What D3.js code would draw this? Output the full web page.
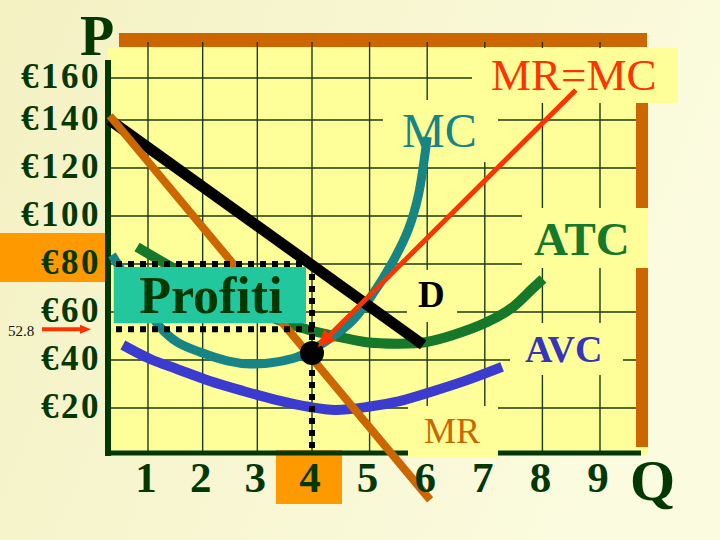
<!DOCTYPE html>
<html><head><meta charset="utf-8">
<script src="https://cdn.jsdelivr.net/npm/d3@7"></script>
<style>body{margin:0;background:#f7f5cf;} svg{display:block;}</style>
</head><body>
<svg id="chart" width="720" height="540"></svg>
<script>
// ---------------- data ----------------
const qTicks = [1, 2, 3, 4, 5, 6, 7, 8, 9];
const qTickLabels = ["1", "2", "3", "4", "5", "6", "7", "8", "9"];
const pTicks = [20, 40, 60, 80, 100, 120, 140, 160];
const pTickLabels = ["€20", "€40", "€60", "€80", "€100", "€120", "€140", "€160"];

const demandQ = [0.3, 5.93];
const demandP = [140, 46.3];
const mrQ = [0.3, 6.05];
const mrP = [142, -18.3];
const mcQ = [0.34, 1.22, 1.53, 1.95, 2.45, 2.87, 3.36, 3.73, 4.0, 4.66, 5.02, 5.39, 5.67, 5.84, 5.94, 6.0];
const mcP = [83.8, 53.75, 47.5, 43.3, 39.6, 38.3, 39.2, 41.25, 44.2, 55.4, 66.25, 80.4, 94.2, 107.9, 122.1, 132.9];
const atcQ = [0.80, 1.27, 2.2, 3.0, 3.78, 4.0, 4.36, 4.95, 5.52, 5.99, 6.45, 7.04, 7.49, 7.84, 8.01];
const atcP = [87.1, 80.8, 69, 60, 53.6, 52.2, 50.2, 47.4, 46.8, 47.5, 50.4, 55.8, 62.1, 70, 73.75];
const avcQ = [0.54, 1.04, 1.53, 2.13, 2.74, 3.36, 3.96, 4.40, 4.95, 5.52, 6.09, 6.68, 7.3];
const avcP = [46.25, 40.4, 36.25, 31.25, 27.1, 23.3, 20.4, 19.2, 20.4, 22.9, 26.9, 31.5, 37.1];

const qAxisStart = 0.3;
const qStar = 4;          // output where MR = MC
const pStar = 42.9;       // MR = MC point
const price = 80;         // price on demand
const atcAtQ = 52.8;      // average total cost at qStar
const atcLabel = "52.8";
const arrowFromQP = [8.58, 154.3];
const arrowToQP = [4.1, 45.4];

// ---------------- setup ----------------
const svg = d3.select("#chart");
const x = d3.scaleLinear().domain([1, 4, 9]).range([148, 312, 600]);
const y = d3.scaleLinear().domain([0, 140, 160]).range([456, 120, 78]);

const SERIF = "'Liberation Serif','Times New Roman',serif";
const DARK = "#033803";
const YEL = "#ffff99";

const defs = svg.append("defs");
const grad = defs.append("linearGradient").attr("id", "bg").attr("x1", 0).attr("x2", 1).attr("y1", 0).attr("y2", 0.3);
grad.append("stop").attr("offset", 0).attr("stop-color", "#f4f1c3");
grad.append("stop").attr("offset", 1).attr("stop-color", "#fbfbdf");
svg.append("rect").attr("width", 720).attr("height", 540).attr("fill", "url(#bg)");

// plot area
svg.append("rect").attr("x", 108).attr("y", 48).attr("width", 540).attr("height", 408).attr("fill", YEL);
// orange frame bars
svg.append("rect").attr("x", 119).attr("y", 33).attr("width", 528).attr("height", 14).attr("fill", "#cc6600");
svg.append("rect").attr("x", 636).attr("y", 103).attr("width", 12).attr("height", 344).attr("fill", "#cc6600");
// orange highlight boxes
svg.append("rect").attr("x", 0).attr("y", y(price) - 31).attr("width", 105).attr("height", 49).attr("fill", "#ff9900");
svg.append("rect").attr("x", x(qStar) - 36).attr("y", 450).attr("width", 66).attr("height", 54).attr("fill", "#ff9900");

// gridlines
svg.append("g").selectAll("line").data(qTicks).join("line")
  .attr("x1", d => x(d)).attr("x2", d => x(d)).attr("y1", 42).attr("y2", 453)
  .attr("stroke", "#1c3a12").attr("stroke-width", 1.4);
svg.append("g").selectAll("line").data(pTicks).join("line")
  .attr("x1", 108).attr("x2", 636).attr("y1", d => y(d)).attr("y2", d => y(d))
  .attr("stroke", "#1c3a12").attr("stroke-width", 1.4);

// axes lines
svg.append("line").attr("x1", 108).attr("x2", 108).attr("y1", 60).attr("y2", 456)
  .attr("stroke", DARK).attr("stroke-width", 6);
svg.append("line").attr("x1", 105).attr("x2", 641).attr("y1", 453).attr("y2", 453)
  .attr("stroke", DARK).attr("stroke-width", 5);

// label background boxes (hide grid)
const boxes = [[472, 48, 206, 55], [383, 100, 115, 62], [522, 208, 126, 60], [407, 270, 50, 52], [510, 323, 113, 52], [408, 406, 90, 52]];
svg.append("g").selectAll("rect").data(boxes).join("rect")
  .attr("x", d => d[0]).attr("y", d => d[1]).attr("width", d => d[2]).attr("height", d => d[3]).attr("fill", YEL);

// curves
const pts = (qs, ps) => qs.map((q, i) => [x(q), y(ps[i])]);
const curve = d3.line().curve(d3.curveCatmullRom.alpha(0.5));
const straight = d3.line();
function drawPath(d, color, w) {
  svg.append("path").attr("d", d).attr("fill", "none").attr("stroke", color)
    .attr("stroke-width", w).attr("stroke-linecap", "butt").attr("stroke-linejoin", "round");
}
drawPath(curve(pts(avcQ, avcP)), "#3b3bd0", 10);
drawPath(curve(pts(atcQ, atcP)), "#15782a", 10);
drawPath(curve(pts(mcQ, mcP)), "#178585", 9);
drawPath(straight(pts(demandQ, demandP)), "#000000", 11);
drawPath(straight(pts(mrQ, mrP)), "#cc6600", 8);

// dotted guide lines
const dotted = svg.append("g").attr("stroke", "#000").attr("stroke-width", 6).attr("stroke-dasharray", "6,6");
dotted.append("line").attr("x1", 116).attr("x2", x(qStar) + 3).attr("y1", y(price)).attr("y2", y(price));
dotted.append("line").attr("x1", 116).attr("x2", x(qStar) + 3).attr("y1", y(atcAtQ)).attr("y2", y(atcAtQ));
dotted.append("line").attr("x1", x(qStar)).attr("x2", x(qStar)).attr("y1", y(price) - 2).attr("y2", 453);

// profit box
svg.append("rect").attr("x", x(qAxisStart) + 4).attr("y", y(price) + 3)
  .attr("width", x(qStar) - 6 - (x(qAxisStart) + 4)).attr("height", y(atcAtQ) - 6 - (y(price) + 3))
  .attr("fill", "#22c79e");
svg.append("text").attr("x", (x(qAxisStart) + x(qStar)) / 2).attr("y", 313)
  .attr("text-anchor", "middle").attr("font-family", SERIF).attr("font-weight", "bold")
  .attr("font-size", 52).attr("fill", DARK).text("Profiti");

// MR = MC point
svg.append("circle").attr("cx", x(qStar)).attr("cy", y(pStar)).attr("r", 12).attr("fill", "#000");

// arrows
function arrow(x1, y1, x2, y2, color, w, hl, hw) {
  const dx = x2 - x1, dy = y2 - y1, L = Math.hypot(dx, dy), ux = dx / L, uy = dy / L;
  const bx = x2 - ux * hl, by = y2 - uy * hl;
  svg.append("line").attr("x1", x1).attr("y1", y1).attr("x2", bx + ux * 2).attr("y2", by + uy * 2)
    .attr("stroke", color).attr("stroke-width", w);
  svg.append("polygon").attr("fill", color)
    .attr("points", [[x2, y2], [bx - uy * hw, by + ux * hw], [bx + uy * hw, by - ux * hw]].map(p => p.join(",")).join(" "));
}
arrow(x(arrowFromQP[0]), y(arrowFromQP[1]), x(arrowToQP[0]), y(arrowToQP[1]), "#ff3300", 5, 17, 8);
arrow(42, y(atcAtQ), 91, y(atcAtQ), "#ff3300", 4, 11, 4.5);

// tick labels
svg.append("g").selectAll("text").data(pTicks).join("text")
  .attr("x", 101).attr("y", d => y(d) + 10).attr("text-anchor", "end")
  .attr("font-family", SERIF).attr("font-weight", "bold").attr("font-size", 35)
  .attr("letter-spacing", 2.5).attr("fill", DARK)
  .text((d, i) => pTickLabels[i]);
svg.append("g").selectAll("text").data(qTicks).join("text")
  .attr("x", d => x(d) - 2).attr("y", 492).attr("text-anchor", "middle")
  .attr("font-family", SERIF).attr("font-weight", "bold").attr("font-size", 43)
  .attr("fill", DARK).text((d, i) => qTickLabels[i]);
svg.append("text").attr("x", 8).attr("y", y(atcAtQ) + 7).attr("font-family", SERIF)
  .attr("font-size", 15).attr("fill", "#111").text(atcLabel);

// axis titles
svg.append("text").attr("x", 80).attr("y", 55).attr("font-family", SERIF).attr("font-weight", "bold")
  .attr("font-size", 56).attr("fill", DARK).text("P");
svg.append("text").attr("x", 630).attr("y", 500).attr("font-family", SERIF).attr("font-weight", "bold")
  .attr("font-size", 58).attr("fill", DARK).text("Q");

// curve labels
const labels = [
  ["MR=MC", 491, 90, 45, "normal", "#ff3300"],
  ["MC", 402, 147, 48, "normal", "#178585"],
  ["ATC", 534, 255, 47, "bold", "#15782a"],
  ["D", 418, 307, 37, "bold", "#000000"],
  ["AVC", 525, 362, 38, "bold", "#3535bb"],
  ["MR", 424, 443, 36, "normal", "#cc6600"]
];
svg.append("g").selectAll("text").data(labels).join("text")
  .attr("x", d => d[1]).attr("y", d => d[2]).attr("font-size", d => d[3])
  .attr("font-weight", d => d[4]).attr("fill", d => d[5]).attr("font-family", SERIF)
  .text(d => d[0]);
</script>
</body></html>
